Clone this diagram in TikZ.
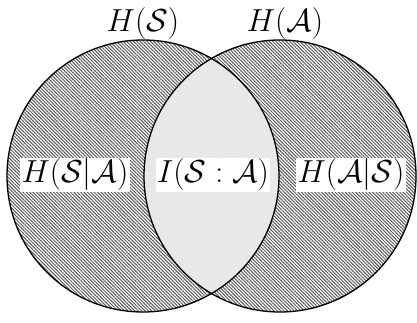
\documentclass[tikz,border=0pt]{standalone}
\usepackage{graphicx}
\usetikzlibrary{patterns.meta}
\newcommand{\vennlbl}[1]{\scalebox{1.28}{\Huge$#1$}}
\begin{document}
\begin{tikzpicture}[x=1pt,y=1pt,
  hatch/.style={pattern={Lines[angle=-45,distance=2.4pt,line width=1pt]},pattern color=black!65},
  lbl/.style={fill=white,inner sep=1.5pt}]
\useasboundingbox (0,0) rectangle (417,322);
\fill[white] (0,0) rectangle (417,322);
\coordinate (cs) at (143,146);
\coordinate (ca) at (280,146);
\fill[white] (cs) circle (136);
\fill[white] (ca) circle (136);
\fill[hatch] (cs) circle (136);
\fill[hatch] (ca) circle (136);
\begin{scope}
  \clip (cs) circle (136);
  \fill[black!7] (ca) circle (136);
  \fill[pattern={Lines[angle=-45,distance=2.4pt,line width=0.6pt]},pattern color=black!12] (ca) circle (136);
\end{scope}
\draw[line width=1.3pt] (cs) circle (136);
\draw[line width=1.3pt] (ca) circle (136);
\node[lbl] (hsa) at (75,147) {\vennlbl{H(\mathcal{S}|\mathcal{A})}};
\node[lbl] (isa) at (213,147) {\vennlbl{I(\mathcal{S}:\mathcal{A})}};
\node[lbl] (has) at (351,147) {\vennlbl{H(\mathcal{A}|\mathcal{S})}};
\node[inner sep=0pt] (hs) at (143,298) {\vennlbl{H(\mathcal{S})}};
\node[inner sep=0pt] (ha) at (285,298) {\vennlbl{H(\mathcal{A})}};
\end{tikzpicture}
\end{document}
